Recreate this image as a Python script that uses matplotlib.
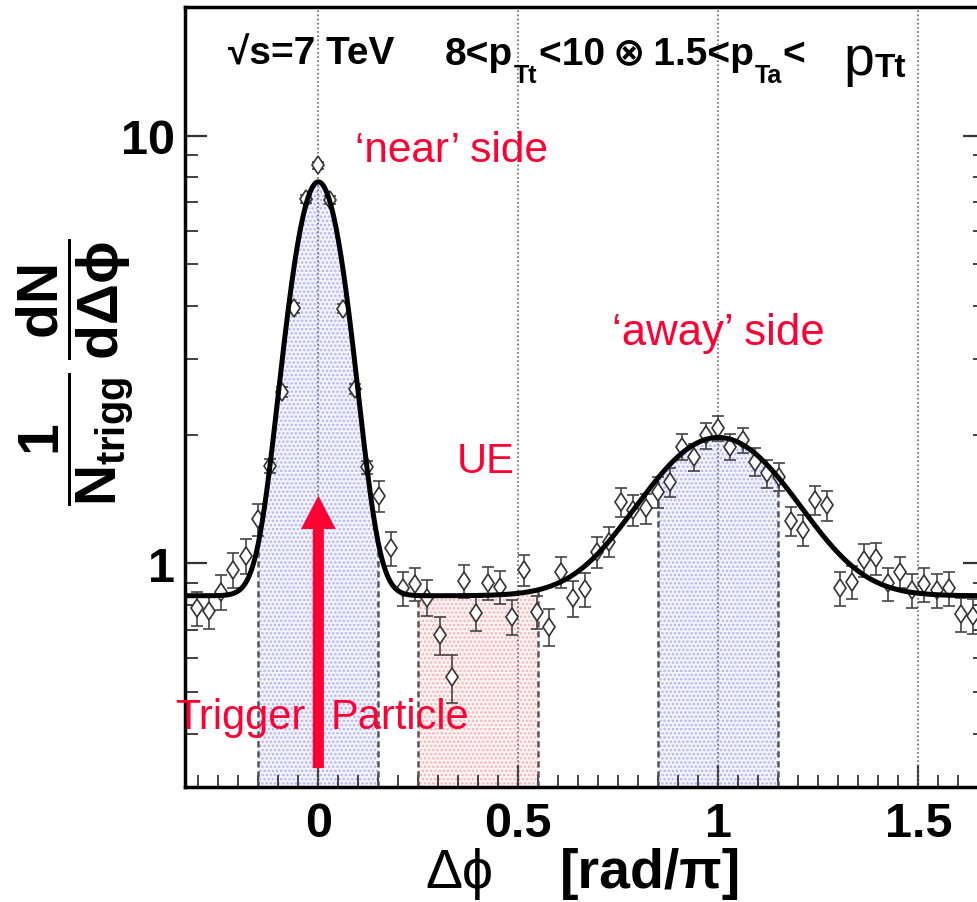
import numpy as np
import matplotlib.pyplot as plt
from matplotlib.ticker import FixedLocator, LogLocator, NullFormatter

plt.rcParams['font.family'] = ['Liberation Sans', 'DejaVu Sans']
plt.rcParams['mathtext.fontset'] = 'custom'
plt.rcParams['mathtext.rm'] = 'Liberation Sans:bold'
plt.rcParams['mathtext.it'] = 'Liberation Sans:bold'
plt.rcParams['mathtext.bf'] = 'Liberation Sans:bold'
plt.rcParams['mathtext.sf'] = 'Liberation Sans:bold'
plt.rcParams['mathtext.fallback'] = 'stixsans'
plt.rcParams['hatch.linewidth'] = 1.2

FAM = ['Liberation Sans', 'DejaVu Sans']
RED = '#ff0033'
W, H = 978, 903

# bin index of each point, dphi in units of pi = bin / 33
bins = np.arange(-10, 55)
yields = [0.785, 0.774, 0.859, 0.965, 1.042, 1.27, 1.69, 2.52, 3.96, 7.1,
          8.52, 7.06, 3.94, 2.56, 1.68, 1.44, 1.084, 0.875, 0.895, 0.832,
          0.68, 0.542, 0.91, 0.764, 0.902, 0.882, 0.751, 0.965, 0.771, 0.711,
          0.956, 0.828, 0.87, 1.065, 1.124, 1.394, 1.332, 1.344, 1.471, 1.552,
          1.874, 1.775, 1.994, 2.068, 1.874, 1.94, 1.728, 1.623, 1.594, 1.256,
          1.196, 1.406, 1.368, 0.877, 0.906, 1.018, 1.027, 0.898, 0.956, 0.866,
          0.893, 0.866, 0.874, 0.760, 0.755]
errors = [0.07, 0.07, 0.08, 0.09, 0.10, 0.11, 0.06, 0.07, 0.10, 0.15,
          0.18, 0.15, 0.10, 0.07, 0.06, 0.12, 0.10, 0.08, 0.08, 0.08,
          0.07, 0.07, 0.08, 0.07, 0.08, 0.08, 0.07, 0.08, 0.07, 0.07,
          0.08, 0.08, 0.08, 0.09, 0.09, 0.11, 0.11, 0.11, 0.12, 0.12,
          0.13, 0.13, 0.14, 0.14, 0.13, 0.13, 0.13, 0.12, 0.12, 0.10,
          0.10, 0.11, 0.11, 0.08, 0.08, 0.09, 0.09, 0.08, 0.08, 0.08,
          0.08, 0.08, 0.08, 0.07, 0.07]
dphi = bins / 33.0

# fit: pedestal + near gaussian + away gaussian
pedestal = 0.84
near_amp, near_sigma = 6.96, 0.059
away_amp, away_mean, away_sigma = 1.13, 1.0, 0.165

near_win = (-0.15, 0.15)
ue_win = (0.25, 0.55)
away_win = (0.85, 1.15)


def fit(x):
    return (pedestal + near_amp * np.exp(-x**2 / (2 * near_sigma**2))
            + away_amp * np.exp(-(x - away_mean)**2 / (2 * away_sigma**2)))


fig = plt.figure(figsize=(W / 100, H / 100), dpi=100)
ax = fig.add_axes([185 / W, 115 / H, 800 / W, 780 / H])
ax.set_yscale('log')
ax.set_xlim(-1 / 3, 5 / 3)
ax.set_ylim(0.3, 20)

# shaded windows
for (lo, hi), fc, hc in [(near_win, '#f4f4ff', '#b4b4f2'),
                         (ue_win, '#fff4f4', '#f4b4b4'),
                         (away_win, '#f4f4ff', '#b4b4f2')]:
    xs = np.linspace(lo, hi, 200)
    ax.fill_between(xs, 0.3, fit(xs), facecolor=fc, edgecolor=hc,
                    hatch='....', linewidth=0, zorder=1)
    for xe in (lo, hi):
        ax.plot([xe, xe], [0.3, fit(xe)], color='#555555', lw=1.8,
                ls=(0, (2.5, 1.5)), zorder=2)

for g in [0, 0.5, 1, 1.5]:
    ax.axvline(g, color='#666666', ls=(0, (1, 1.5)), lw=1.2, zorder=2)

ax.errorbar(dphi, yields, yerr=errors, fmt='d', ms=9.5, mfc='white',
            mec='#333333', mew=1.2, ecolor='#444444', elinewidth=1.2,
            capsize=4, capthick=1.2, zorder=3)

xf = np.linspace(-1 / 3, 5 / 3, 1000)
ax.plot(xf, fit(xf), color='black', lw=3.6, zorder=4)

# trigger arrow
ax.annotate('', xy=(0, 1.44), xytext=(0, 0.332),
            arrowprops=dict(facecolor=RED, edgecolor='none', width=8,
                            headwidth=25, headlength=24, shrink=0),
            zorder=5)

# axes styling
for s in ax.spines.values():
    s.set_linewidth(2.5)
ax.set_xticks([0, 0.5, 1, 1.5])
ax.set_xticklabels(['0', '0.5', '1', '1.5'])
ax.xaxis.set_minor_locator(FixedLocator(np.arange(-0.3, 1.66, 0.05)))
ax.set_yticks([1, 10])
ax.set_yticklabels(['1', '10'])
ax.yaxis.set_minor_locator(LogLocator(base=10, subs=range(2, 10)))
ax.yaxis.set_minor_formatter(NullFormatter())
ax.tick_params(which='both', direction='in', top=False, right=True,
               color='#333333')
ax.tick_params(which='major', length=16, width=1.6)
ax.tick_params(which='minor', length=9, width=1.3)
ax.tick_params(axis='x', which='major', pad=10)
ax.tick_params(axis='y', which='major', pad=7)
for lab in ax.get_xticklabels() + ax.get_yticklabels():
    lab.set_family(FAM)
    lab.set_fontweight('bold')
    lab.set_fontsize(35)

# red annotations
ax.text(0.0925, 8.74, '\u2018near\u2019 side', color=RED, fontsize=30.5, va='baseline')
ax.text(0.735, 3.266, '\u2018away\u2019 side', color=RED, fontsize=31.5, va='baseline')
ax.text(0.345, 1.632, 'UE', color=RED, fontsize=30, va='baseline')
ax.text(-0.3575, 0.4115, 'Trigger', color=RED, fontsize=30, va='baseline', clip_on=False)
ax.text(0.03, 0.4115, 'Particle', color=RED, fontsize=30, va='baseline')

# title line, placed piece by piece
renderer = fig.canvas.get_renderer()


def run(x, base, pieces):
    for text, size, dy, weight in pieces:
        t = fig.text(x / W, 1 - (base + dy) / H, text, fontsize=size,
                     fontweight=weight, family=FAM, va='baseline', ha='left')
        x = t.get_window_extent(renderer).x1 + 1


run(228, 65, [('\u221as=7 TeV', 28, 0, 'bold')])
run(445, 65, [('8<p', 28, 0, 'bold'),
              ('Tt', 18, 18, 'bold'),
              ('<10\u2009\u2297\u20091.5<p', 28, 0, 'bold'),
              ('Ta', 18, 18, 'bold'),
              ('<', 28, 0, 'bold')])
run(843, 65, [('p', 40, 10, 'normal'),
              ('Tt', 24, 12, 'bold')])

# axis titles
fig.text(75 / W, 1 - 372 / H,
         r'$\dfrac{1}{N_{trigg}}\,\dfrac{dN}{d\Delta\phi}$',
         rotation=90, fontsize=41, ha='center', va='center')
fig.text(459 / W, 1 - 874 / H, '\u0394\u03d5', fontsize=40,
         ha='center', va='center')
fig.text(560 / W, 1 - 874 / H, '[rad/\u03c0]', fontsize=40,
         fontweight='bold', ha='left', va='center')

fig.savefig('out.png', dpi=100)
